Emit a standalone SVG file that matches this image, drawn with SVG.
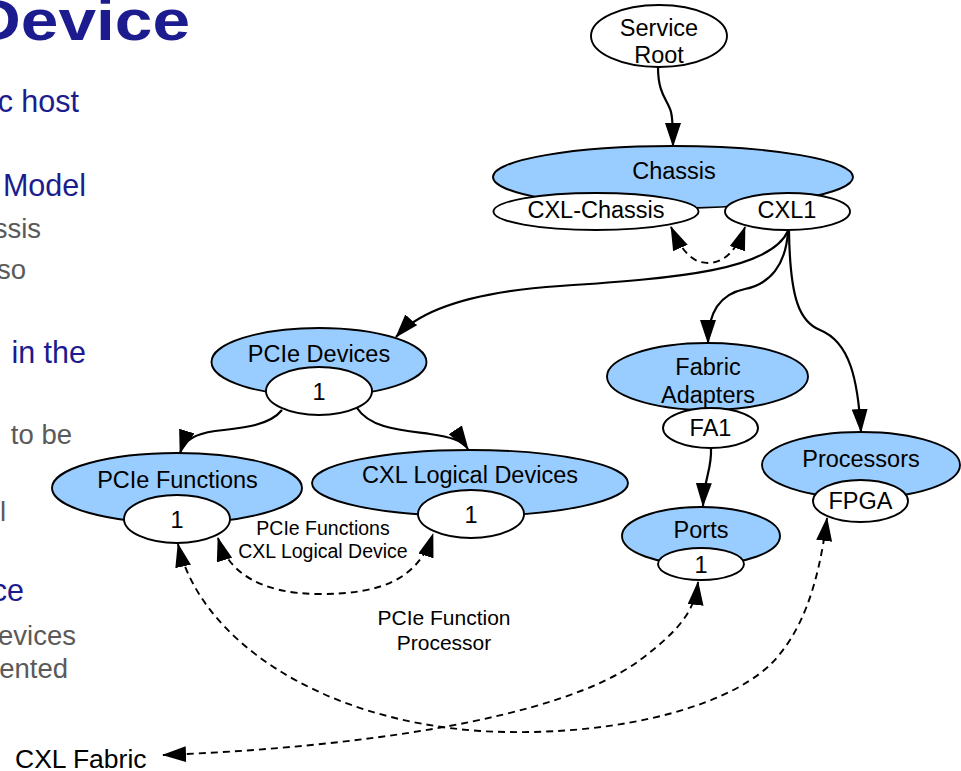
<svg xmlns="http://www.w3.org/2000/svg" width="961" height="771" viewBox="0 0 961 771">
  <defs>
    <style>
      text { font-family: "Liberation Sans", Arial, sans-serif; }
      .title { font-size: 58px; font-weight: bold; fill: #1c1c8f; }
      .blue { font-size: 30.5px; fill: #1c1c8f; text-anchor: end; }
      .gray { font-size: 27.5px; fill: #5a5a5a; text-anchor: end; }
      .set { fill: #99ccff; stroke: #000; stroke-width: 1.9; }
      .item { fill: #fff; stroke: #000; stroke-width: 1.9; }
      .lbl { font-size: 23.5px; fill: #000; text-anchor: middle; }
      .elbl { font-size: 19.5px; fill: #000; text-anchor: middle; }
      .elbl2 { font-size: 21px; fill: #000; text-anchor: middle; }
      .solid { fill: none; stroke: #000; stroke-width: 2.2; marker-end: url(#arrow); }
      .dash { fill: none; stroke: #000; stroke-width: 1.9; stroke-dasharray: 7 5; marker-start: url(#arrow); marker-end: url(#arrow); }
    </style>
    <marker id="arrow" viewBox="0 0 24 16" refX="23" refY="8" markerWidth="24" markerHeight="16" markerUnits="userSpaceOnUse" orient="auto-start-reverse">
      <path d="M0,0 L24,8 L0,16 z" fill="#000"/>
    </marker>
  </defs>

  <rect width="961" height="771" fill="#fff"/>

  <!-- slide text on the left -->
  <g id="slide-text">
    <text class="title" x="-28" y="40" textLength="218" lengthAdjust="spacingAndGlyphs">Device</text>
    <text class="blue" x="79" y="112">c host</text>
    <text class="blue" x="86" y="196">Model</text>
    <text class="gray" x="41" y="238">ssis</text>
    <text class="gray" x="26" y="279">so</text>
    <text class="blue" x="86" y="363">in the</text>
    <text class="gray" x="72" y="444">to be</text>
    <text class="gray" x="6" y="521">l</text>
    <text class="blue" x="24" y="601">ce</text>
    <text class="gray" x="76" y="645">evices</text>
    <text class="gray" x="68" y="678">ented</text>
  </g>

  <!-- connectors -->
  <g id="connectors">
    <path class="solid" d="M658,67 C658,95 668,100 671,112 C673,120 673,130 673,146"/>
    <path class="solid" d="M788,231 C770,270 680,278 560,286 C470,292 420,310 396,337"/>
    <path class="solid" d="M788,231 C786,265 770,284 745,289 C720,294 708,312 708,343"/>
    <path class="solid" d="M789,231 C790,300 800,322 820,330 C850,342 858,380 861,432"/>
    <path class="solid" d="M282,410 C270,425 245,428 215,431 C195,434 184,440 180,453"/>
    <path class="solid" d="M357,408 C370,428 400,430 430,434 C450,437 462,440 468,449"/>
    <path class="solid" d="M711,448 C712,470 704,478 703,506"/>

    <path class="dash" d="M671,227 C680,247 690,263 708,263 C726,263 738,247 745,227"/>
    <path class="dash" d="M218,538 C228,572 260,594 320,594 C380,594 418,580 433,534"/>
    <path class="dash" d="M178,544 C200,640 320,720 480,731 C600,738 720,712 770,665 C800,635 818,590 827,518"/>
    <path class="dash" d="M163,755 C350,748 560,720 640,660 C680,630 695,610 698,582"/>

    <text class="elbl" x="323" y="535">PCIe Functions</text>
    <text class="elbl" x="323" y="558">CXL Logical Device</text>
    <text class="elbl2" x="444" y="625">PCIe Function</text>
    <text class="elbl2" x="444" y="650">Processor</text>
  </g>

  <!-- nodes -->
  <g id="service-root">
    <ellipse class="item" cx="659" cy="36" rx="68" ry="31"/>
    <text class="lbl" x="659" y="36">Service</text>
    <text class="lbl" x="659" y="63">Root</text>
  </g>

  <g id="chassis">
    <ellipse class="set" cx="673" cy="177" rx="180" ry="31"/>
    <ellipse class="item" cx="596" cy="211.5" rx="102.5" ry="18.5"/>
    <ellipse class="item" cx="787.5" cy="211.5" rx="62.5" ry="18.5"/>
    <text class="lbl" x="674" y="179">Chassis</text>
    <text class="lbl" x="596" y="218">CXL-Chassis</text>
    <text class="lbl" x="787" y="218">CXL1</text>
  </g>

  <g id="pcie-devices">
    <ellipse class="set" cx="319" cy="362" rx="107.5" ry="34"/>
    <ellipse class="item" cx="319" cy="391" rx="53" ry="24"/>
    <text class="lbl" x="319" y="362">PCIe Devices</text>
    <text class="lbl" x="319" y="400">1</text>
  </g>

  <g id="pcie-functions">
    <ellipse class="set" cx="177" cy="488" rx="125" ry="35"/>
    <ellipse class="item" cx="177" cy="519" rx="53" ry="24"/>
    <text class="lbl" x="177.5" y="488">PCIe Functions</text>
    <text class="lbl" x="177" y="528">1</text>
  </g>

  <g id="cxl-logical-devices">
    <ellipse class="set" cx="470" cy="483" rx="158" ry="33"/>
    <ellipse class="item" cx="471" cy="514" rx="53" ry="24"/>
    <text class="lbl" x="470" y="483">CXL Logical Devices</text>
    <text class="lbl" x="471" y="523">1</text>
  </g>

  <g id="fabric-adapters">
    <ellipse class="set" cx="707.5" cy="376.5" rx="100.5" ry="33.5"/>
    <ellipse class="item" cx="710.5" cy="428" rx="47.5" ry="20"/>
    <text class="lbl" x="708" y="375">Fabric</text>
    <text class="lbl" x="708" y="403">Adapters</text>
    <text class="lbl" x="710.5" y="436">FA1</text>
  </g>

  <g id="ports">
    <ellipse class="set" cx="701" cy="536" rx="79" ry="29"/>
    <ellipse class="item" cx="701" cy="564" rx="43" ry="16"/>
    <text class="lbl" x="701" y="538">Ports</text>
    <text class="lbl" x="701" y="573">1</text>
  </g>

  <g id="processors">
    <ellipse class="set" cx="861" cy="465" rx="99" ry="33"/>
    <ellipse class="item" cx="860.5" cy="501" rx="47.5" ry="21"/>
    <text class="lbl" x="861" y="467">Processors</text>
    <text class="lbl" x="860.5" y="509">FPGA</text>
  </g>

  <g id="cxl-fabric">
    <text x="15" y="768" font-size="26.5" fill="#000">CXL Fabric</text>
  </g>
</svg>
